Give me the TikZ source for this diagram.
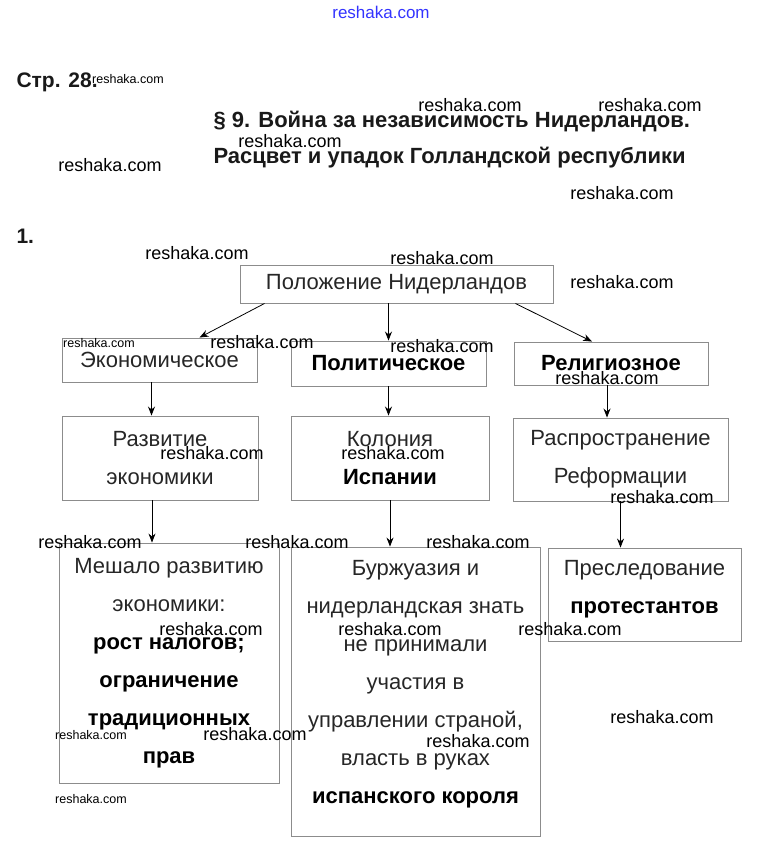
\documentclass[tikz,border=0pt]{standalone}
\usepackage{fontspec}
\setmainfont{Liberation Sans}
\usetikzlibrary{positioning,arrows.meta,calc}

\tikzset{
  box/.style={draw=black!45, line width=0.9pt, align=center, inner sep=0pt,
    font=\fontsize{22}{38}\selectfont, text=black!85},
  boldbox/.style={box, font=\bfseries\fontsize{22}{38}\selectfont, text=black},
  arr/.style={-{Stealth[length=9pt,width=7pt]}, line width=0.8pt},
  wm/.style={font=\fontsize{18}{18}\selectfont, text=black},
  wmsmall/.style={font=\fontsize{12.5}{12}\selectfont, text=black},
  head/.style={font=\bfseries\fontsize{22}{22}\selectfont, text=black!90, anchor=west},
}

\begin{document}
\begin{tikzpicture}[x=1pt,y=-1pt]
  \useasboundingbox (0,0) rectangle (759,851);

  % header
  \node[font=\fontsize{17}{17}\selectfont, text=blue!80] (site) at (381,12) {reshaka.com};
  \node[head, font=\bfseries\fontsize{21}{21}\selectfont] (page) at (13,82) {Стр. 28.};
  \node[head] (title1) at (210,122) {§ 9. Война за независимость Нидерландов.};
  \node[head] (title2) at (210,158) {Расцвет и упадок Голландской республики};
  \node[head, font=\bfseries\fontsize{21}{21}\selectfont] (num) at (13,236) {1.};

  % boxes
  \node[box, minimum width=313, minimum height=38] (pol) at (396.5,284) {Положение Нидерландов};

  \node[box, minimum width=195, minimum height=44] (econ) at (159.5,360) {Экономическое};
  \node[boldbox, minimum width=195, minimum height=45] (polit) at (388.5,363.5) {Политическое};
  \node[boldbox, minimum width=194, minimum height=43] (relig) at (611,363.5) {Религиозное};

  \node[box, minimum width=196, minimum height=84] (dev) at (160,458) {Развитие\\ экономики};
  \node[box, minimum width=198, minimum height=84] (col) at (390,458) {Колония\\ \textbf{\color{black}Испании}};
  \node[box, minimum width=215, minimum height=83] (reform) at (620.5,459.5) {Распространение\\ Реформации};

  \node[box, minimum width=220, minimum height=240] (hind) at (169,663)
    {Мешало развитию\\ экономики:\\ \textbf{\color{black}рост налогов;}\\ \textbf{\color{black}ограничение}\\ \textbf{\color{black}традиционных}\\ \textbf{\color{black}прав}};
  \node[box, minimum width=249, minimum height=289, text depth=19pt] (bourg) at (415.5,691.5)
    {Буржуазия и\\ нидерландская знать\\ не принимали\\ участия в\\ управлении страной,\\ власть в руках\\ \textbf{\color{black}испанского короля}};
  \node[box, minimum width=193, minimum height=93, text depth=15pt] (pers) at (644.5,594.5) {Преследование\\ \textbf{\color{black}протестантов}};

  % arrows
  \draw[arr] ([xshift=25]pol.south west) -- ([xshift=40]econ.north);
  \draw[arr] (polit.north |- pol.south) -- (polit.north);
  \draw[arr] ([xshift=-38]pol.south east) -- ([xshift=-19]relig.north);

  \draw[arr] ([xshift=-8]econ.south) -- ([xshift=-8]econ.south |- dev.north);
  \draw[arr] (polit.south) -- (polit.south |- col.north);
  \draw[arr] ([xshift=-4]relig.south) -- ([xshift=-4]relig.south |- reform.north);

  \draw[arr] ([xshift=-8]dev.south) -- ([xshift=-8]dev.south |- hind.north);
  \draw[arr] (col.south) -- (col.south |- bourg.north);
  \draw[arr] (reform.south) -- (reform.south |- pers.north);

  % watermarks
  \foreach \x/\y [count=\i] in {470/105, 650/105, 290/141, 110/165, 622/193,
      197/253, 442/258, 622/282, 262/342, 442/346, 607/378, 212/453, 393/453,
      662/497, 90/542, 297/542, 478/542, 211/629, 390/629, 570/629, 255/734,
      478/741, 662/717}
    \node[wm] (wm\i) at (\x,\y) {reshaka.com};
  \foreach \x/\y [count=\i] in {128/79, 99/343, 91/735, 91/799}
    \node[wmsmall] (wms\i) at (\x,\y) {reshaka.com};
\end{tikzpicture}
\end{document}
